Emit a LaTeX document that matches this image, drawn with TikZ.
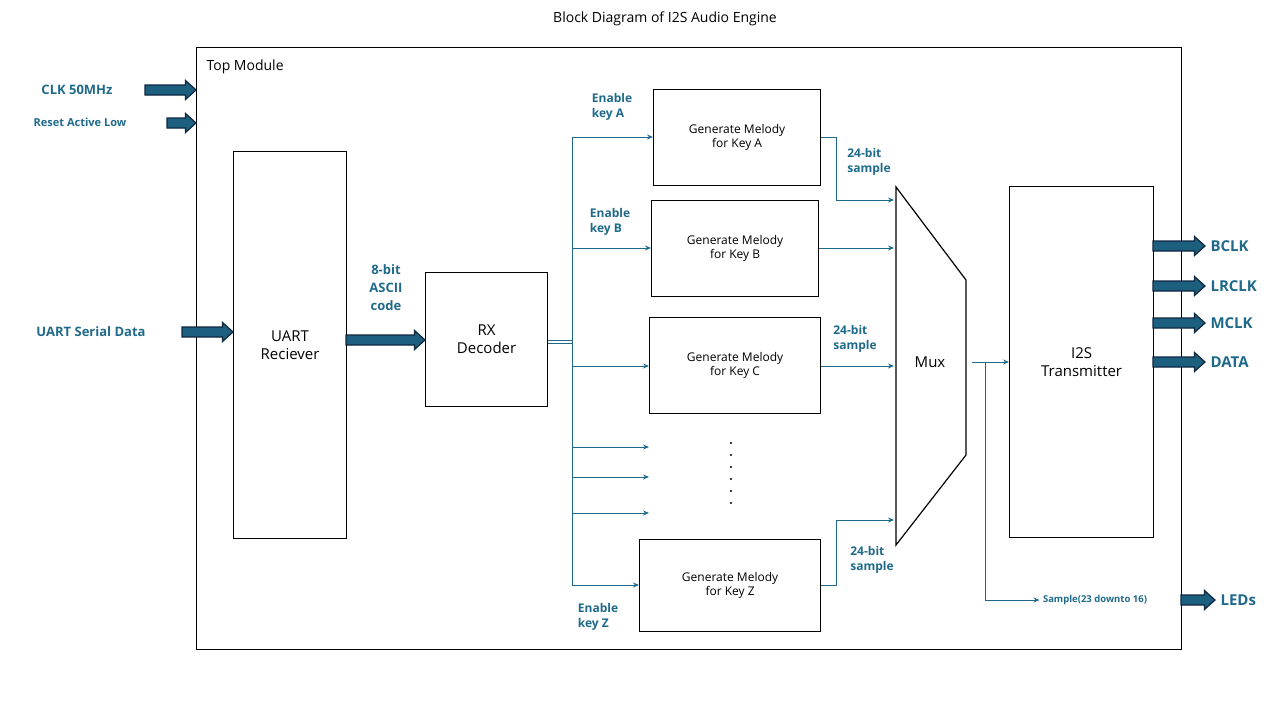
\documentclass[tikz,border=0pt]{standalone}
\usepackage{fontspec}
\setmainfont{Open Sans}
\usetikzlibrary{arrows.meta}
\definecolor{lbl}{HTML}{1F6A8A}
\definecolor{fatf}{HTML}{1D5F7E}
\definecolor{fatl}{HTML}{0E2841}
\newcommand\fatarr[4]{% x1 x2 y halfbody
  \pgfmathsetmacro\hb{#4}\pgfmathsetmacro\hh{#4*1.9}\pgfmathsetmacro\hl{#4*2.1}
  \filldraw[fill=fatf,draw=fatl,line width=1.2pt]
   (#1,#3-\hb) -- (#2-\hl,#3-\hb) -- (#2-\hl,#3-\hh) -- (#2,#3) -- (#2-\hl,#3+\hh)
   -- (#2-\hl,#3+\hb) -- (#1,#3+\hb) -- cycle;}
\begin{document}
\begin{tikzpicture}[x=1pt,y=-1pt,
  box/.style={draw,line width=1.2pt,inner sep=0pt,font=\fontsize{12}{14}\selectfont,align=center},
  bl/.style={text=lbl,font=\bfseries\fontsize{12}{15}\selectfont,align=left},
  big/.style={text=lbl,font=\bfseries\fontsize{15}{18}\selectfont},
  sig/.style={draw=lbl,line width=1pt,-{Stealth[length=6pt,width=5pt]}},
  ln/.style={draw=lbl,line width=1pt}]
\useasboundingbox (0,0) rectangle (1280,720);
\node[font=\fontsize{14}{16}\selectfont] (title) at (665,19) {Block Diagram of I2S Audio Engine};
\node[draw,line width=1.2pt,minimum width=985pt,minimum height=602pt,anchor=north west,inner sep=0pt] (top) at (196,47) {};
\node[anchor=west,font=\fontsize{14}{16}\selectfont] (tm) at (203,67) {Top Module};
% left inputs
\node[bl,font=\bfseries\fontsize{13}{15}\selectfont] (clk) at (77,90) {CLK 50MHz};
\fatarr{145}{196}{90}{5}
\node[bl,font=\bfseries\fontsize{11}{13}\selectfont] (rst) at (80,122) {Reset Active Low};
\fatarr{167}{196}{123}{5}
\node[box,minimum width=113pt,minimum height=387pt,anchor=north west,font=\fontsize{15}{18}\selectfont] (uart) at (233,151) {UART\\Reciever};
\node[bl,font=\bfseries\fontsize{13}{15}\selectfont] (usd) at (91,332) {UART Serial Data};
\fatarr{182}{233}{332}{5}
\node[bl,align=center,font=\bfseries\fontsize{13}{18}\selectfont] (ascii) at (386,288) {8-bit\\ASCII\\code};
\node[box,minimum width=122pt,minimum height=134pt,anchor=north west,font=\fontsize{15}{18}\selectfont] (rx) at (425,272) {RX\\Decoder};
\fatarr{346}{425}{340}{5}
% generators
\node[box,minimum width=167pt,minimum height=96pt,anchor=north west] (ga) at (653,89) {Generate Melody\\for Key A};
\node[box,minimum width=167pt,minimum height=96pt,anchor=north west] (gb) at (651,200) {Generate Melody\\for Key B};
\node[box,minimum width=171pt,minimum height=96pt,anchor=north west] (gc) at (649,317) {Generate Melody\\for Key C};
\node[box,minimum width=181pt,minimum height=92pt,anchor=north west] (gz) at (639,539) {Generate Melody\\for Key Z};
% bus
\coordinate (b0) at (572,340);
\draw[ln] (rx.east |- 0,340) -- (572,340);
\draw[ln] (rx.east |- 0,343) -- (572,343);
\draw[ln] (572,137) -- (572,585);
\draw[sig] (572,137) -- (ga.west |- 0,137);
\draw[sig] (572,248) -- (gb.west |- 0,248);
\draw[sig] (572,366) -- (gc.west |- 0,366);
\coordinate (e1) at (649,447); \coordinate (e2) at (649,477); \coordinate (e3) at (649,513);
\draw[sig] (572,447) -- (e1);
\draw[sig] (572,477) -- (e2);
\draw[sig] (572,513) -- (e3);
\draw[sig] (572,585) -- (gz.west |- 0,585);
\foreach \y in {443,455,467,479,491,503} \fill (731,\y) circle (1.2pt);
\node[bl] (ena) at (612,107) {Enable\\key A};
\node[bl] (enb) at (610,222) {Enable\\key B};
\node[bl] (enz) at (598,617) {Enable\\key Z};
% mux
\draw[line width=1.2pt] (896,187) -- (966,280) -- (966,455) -- (896,545) -- cycle;
\node[font=\fontsize{15}{18}\selectfont] (mux) at (930,362) {Mux};
\coordinate (ma) at (894,200); \coordinate (mb) at (894,248); \coordinate (mc) at (894,366); \coordinate (mz) at (894,520);
\draw[sig] (ga.east |- 0,137) -- (836,137) -- (836,200) -- (ma);
\draw[sig] (gb.east |- 0,248) -- (mb);
\draw[sig] (gc.east |- 0,366) -- (mc);
\draw[sig] (gz.east |- 0,585) -- (836,585) -- (836,520) -- (mz);
\node[bl] (s1) at (869,162) {24-bit\\sample};
\node[bl] (s2) at (855,339) {24-bit\\sample};
\node[bl] (s3) at (872,560) {24-bit\\sample};
% I2S
\node[box,minimum width=144pt,minimum height=351pt,anchor=north west,font=\fontsize{15}{18}\selectfont] (i2s) at (1009,186) {I2S\\Transmitter};
\coordinate (mo) at (972,362);
\draw[sig] (mo) -- (i2s.west |- 0,362);
\node[text=lbl,font=\bfseries\fontsize{9.5}{11}\selectfont] (smp) at (1095,600) {Sample(23 downto 16)};
\draw[sig] (985,362) -- (985,600) -- (smp.west);
\foreach \y/\t/\n in {246/BCLK/o1,286/LRCLK/o2,323/MCLK/o3,362/DATA/o4}{
  \fatarr{1153}{1205}{\y}{5}
  \node[big,anchor=west] (\n) at (1207,\y) {\t};}
\fatarr{1181}{1215}{600}{5}
\node[big,anchor=west] (leds) at (1217,600) {LEDs};
\end{tikzpicture}
\end{document}
